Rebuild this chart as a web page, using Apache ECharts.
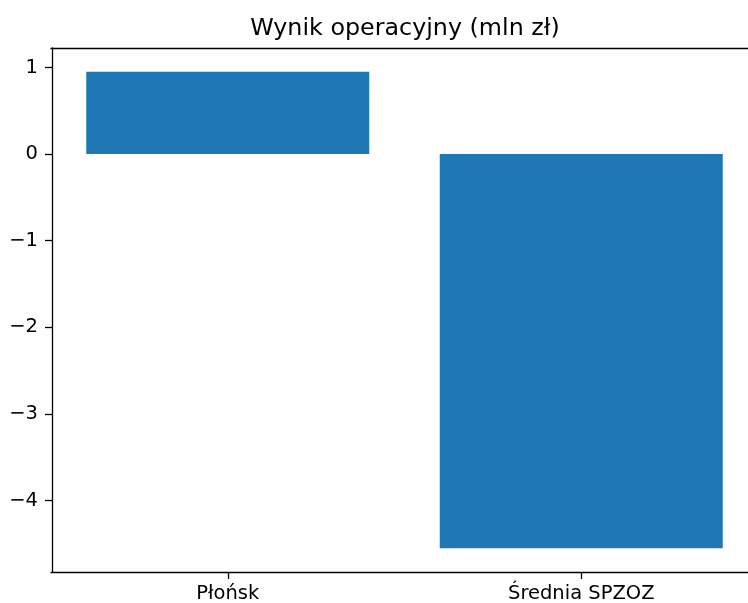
<!DOCTYPE html>
<html>
<head>
<meta charset="utf-8">
<script src="https://cdn.jsdelivr.net/npm/echarts@6/dist/echarts.min.js"></script>
<style>
  html, body { margin: 0; padding: 0; background: #fff; overflow: hidden; }
  #chart { width: 748px; height: 603px; }
</style>
</head>
<body>
<div id="chart"></div>
<script>
// dane
const categories = ['Płońsk', 'Średnia SPZOZ'];
const values = [0.95, -4.55];
const yTicks = [-4, -3, -2, -1, 0, 1];

const fmtMinus = v => (v < 0 ? '\u2212' + (-v) : String(v));
const spine = { color: '#000', width: 1.3 };

const chart = echarts.init(document.getElementById('chart'), null, { renderer: 'canvas' });

chart.setOption({
    animation: false,
    backgroundColor: '#fff',
    textStyle: { fontFamily: 'DejaVu Sans' },
    title: {
        text: 'Wynik operacyjny (mln zł)',
        left: 400,
        top: 12,
        textAlign: 'center',
        textStyle: { fontFamily: 'DejaVu Sans', fontSize: 23.8, fontWeight: 'normal', color: '#000' }
    },
    // prawa krawędź wykresu wychodzi poza obraz (jak w oryginale)
    grid: {
        left: 51, top: 48, height: 524, width: 707,
        outerBoundsMode: 'none',
        containLabel: false,
        show: false
    },
    xAxis: [{
        type: 'category',
        data: categories,
        boundaryGap: true,
        axisLine: { onZero: false, lineStyle: spine },
        axisTick: { show: true, alignWithLabel: true, length: 7, lineStyle: spine },
        axisLabel: { color: '#000', fontSize: 19.5, margin: 12, fontFamily: 'DejaVu Sans' },
        splitLine: { show: false }
    }, {
        // górna ramka
        type: 'category',
        data: categories,
        position: 'top',
        axisLine: { onZero: false, lineStyle: spine },
        axisTick: { show: false },
        axisLabel: { show: false },
        splitLine: { show: false }
    }],
    yAxis: {
        type: 'value',
        min: -4.825,
        max: 1.225,
        offset: -1,
        axisLine: { show: true, onZero: false, lineStyle: spine },
        axisTick: { show: true, length: 7, customValues: yTicks, lineStyle: spine },
        axisLabel: { color: '#000', fontSize: 19.5, margin: 14, customValues: yTicks, formatter: fmtMinus, fontFamily: 'DejaVu Sans' },
        splitLine: { show: false }
    },
    series: [{
        type: 'bar',
        data: values,
        barWidth: 283,
        itemStyle: { color: '#1f77b4' }
    }]
});
</script>
</body>
</html>
